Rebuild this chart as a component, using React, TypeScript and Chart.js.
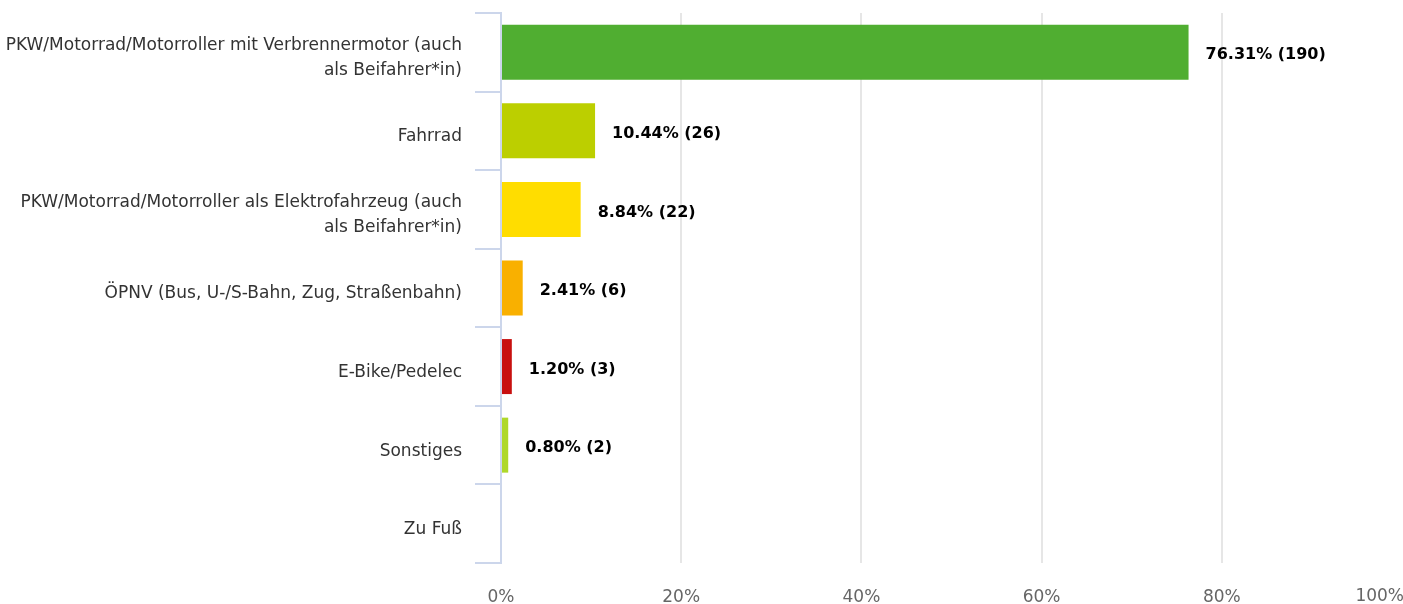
import React, { useEffect, useRef } from "react";
import { Chart, registerables } from "chart.js";

Chart.register(...registerables);

const categories: string[][] = [
  ["PKW/Motorrad/Motorroller mit Verbrennermotor (auch", "als Beifahrer*in)"],
  ["Fahrrad"],
  ["PKW/Motorrad/Motorroller als Elektrofahrzeug (auch", "als Beifahrer*in)"],
  ["ÖPNV (Bus, U-/S-Bahn, Zug, Straßenbahn)"],
  ["E-Bike/Pedelec"],
  ["Sonstiges"],
  ["Zu Fuß"],
];
const percentages: number[] = [76.31, 10.44, 8.84, 2.41, 1.2, 0.8, 0];
const counts: number[] = [190, 26, 22, 6, 3, 2, 0];
const barColors: string[] = ["#50ae31", "#bccf00", "#ffdd00", "#f9b000", "#c8100f", "#afd82a", "#7fb8e0"];
const xTicks: number[] = [0, 20, 40, 60, 80, 100];

const FONT = "'DejaVu Sans', sans-serif";

export default function App() {
  const ref = useRef<HTMLCanvasElement | null>(null);

  useEffect(() => {
    if (!ref.current) return;
    const labelPlugin = {
      id: "valueLabels",
      afterDatasetsDraw(chart: any) {
        const ctx = chart.ctx;
        const meta = chart.getDatasetMeta(0);
        ctx.save();
        ctx.font = `bold 16px ${FONT}`;
        ctx.fillStyle = "#000000";
        ctx.textAlign = "left";
        ctx.textBaseline = "middle";
        meta.data.forEach((bar: any, i: number) => {
          if (percentages[i] <= 0) return;
          ctx.fillText(`${percentages[i].toFixed(2)}% (${counts[i]})`, bar.x + 17, bar.y + 3);
        });
        ctx.restore();
      },
      afterDraw(chart: any) {
        const ctx = chart.ctx;
        const xs = chart.scales.x;
        const last = xTicks[xTicks.length - 1];
        ctx.save();
        ctx.font = `17px ${FONT}`;
        ctx.fillStyle = "#666666";
        ctx.textAlign = "right";
        ctx.textBaseline = "middle";
        ctx.fillText(`${last}%`, Math.min(xs.getPixelForValue(last) + 2, chart.width + 1), 597);
        ctx.restore();
      },
    };

    const chart = new Chart(ref.current, {
      type: "bar",
      data: {
        labels: categories,
        datasets: [
          {
            data: percentages,
            backgroundColor: barColors,
            borderWidth: 0,
            barPercentage: 0.7,
            categoryPercentage: 1,
          },
        ],
      },
      options: {
        indexAxis: "y",
        animation: false,
        responsive: true,
        maintainAspectRatio: false,
        layout: { padding: { top: 13, right: 1, left: 0, bottom: 0 } },
        plugins: {
          legend: { display: false },
          tooltip: { enabled: false },
        },
        scales: {
          x: {
            min: 0,
            max: 100,
            afterBuildTicks: (scale: any) => {
              scale.ticks = xTicks.map((v) => ({ value: v }));
            },
            afterFit: (scale: any) => {
              scale.height = 41;
              scale.paddingLeft = 0;
              scale.paddingRight = 0;
            },
            grid: {
              color: (c: any) => (c.tick && c.tick.value === 100 ? "rgba(0,0,0,0)" : "#e6e6e6"),
              lineWidth: 2,
              drawTicks: false,
            },
            border: { display: false },
            ticks: {
              padding: 24,
              color: "#666666",
              font: { family: FONT, size: 17 },
              maxRotation: 0,
              callback: (v: any) => (v === 100 ? "" : `${v}%`),
            },
          },
          y: {
            afterFit: (scale: any) => {
              scale.width = 501;
              scale.paddingTop = 0;
              scale.paddingBottom = 0;
            },
            grid: {
              drawOnChartArea: false,
              drawTicks: true,
              tickLength: 26,
              color: "#ccd6eb",
              lineWidth: 2,
            },
            border: { display: true, color: "#ccd6eb", width: 2 },
            ticks: {
              padding: 13,
              labelOffset: 6,
              color: "#333333",
              font: { family: FONT, size: 17, lineHeight: 1.47 },
            },
          },
        },
      },
      plugins: [labelPlugin],
    });
    return () => chart.destroy();
  }, []);

  return (
    <div style={{ position: "fixed", left: 0, top: 0, width: 1403, height: 604, background: "#ffffff" }}>
      <canvas ref={ref} />
    </div>
  );
}
